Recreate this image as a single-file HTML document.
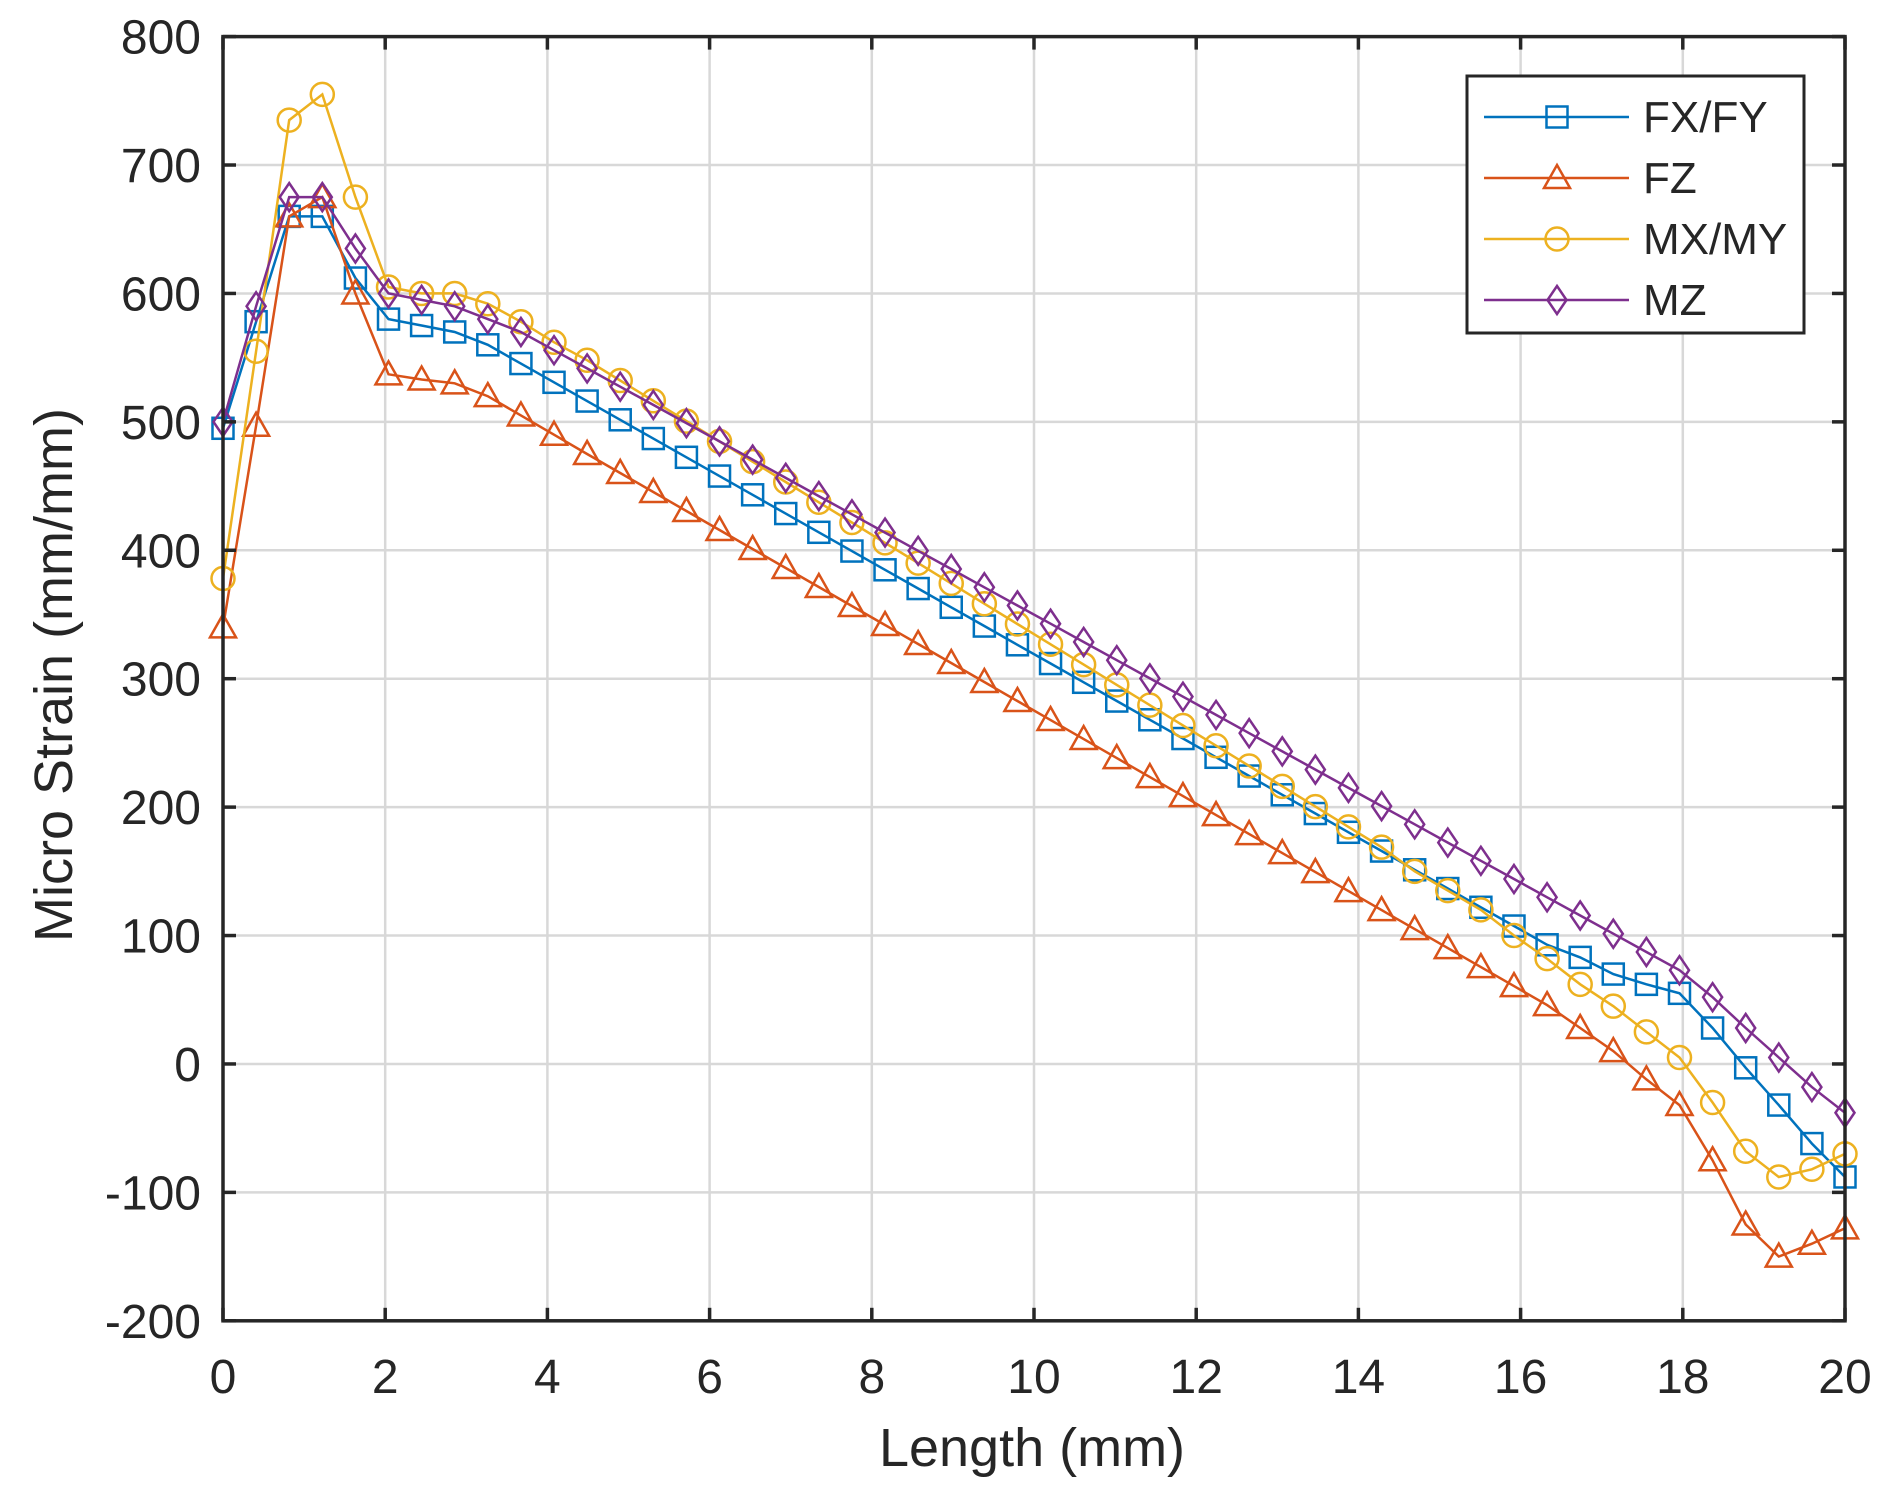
<!DOCTYPE html>
<html><head><meta charset="utf-8"><style>
html,body{margin:0;padding:0;background:#fff;}
svg{display:block;font-family:"Liberation Sans",Arial,sans-serif;}
</style></head><body>
<svg id="s" width="1892" height="1502" viewBox="0 0 1892 1502" xmlns="http://www.w3.org/2000/svg"></svg>
<script>
const S=document.getElementById('s');
const X0=223,X1=1845,Y0=1320.8,Y1=36.6;
const xs=v=>X0+(X1-X0)*v/20, ys=v=>Y0+(Y1-Y0)*(v+200)/1000;
let h='';
for(let i=0;i<=10;i++){const x=xs(i*2);h+=`<line x1="${x}" y1="${Y1}" x2="${x}" y2="${Y0}" stroke="#d8d8d8" stroke-width="2.5"/>`;}
for(let v=-200;v<=800;v+=100){const y=ys(v);h+=`<line x1="${X0}" y1="${y}" x2="${X1}" y2="${y}" stroke="#d8d8d8" stroke-width="2.5"/>`;}
function lin(a,start,end,slope,val){for(let i=start;i<=end;i++)a[i]=val+(i-start)*slope;}
let fx=[495,578,660,660,612,580,575,570];lin(fx,8,40,-14.6,560);fx[41]=83;fx[42]=70;fx[43]=62;fx[44]=55;fx[45]=28;fx[46]=-3;fx[47]=-32;fx[48]=-62;fx[49]=-88;
let fz=[340,497,660,675,600,537,533,530,520,505,490];lin(fz,11,40,-14.8,475);fz[41]=28;fz[42]=10;fz[43]=-12;fz[44]=-32;fz[45]=-75;fz[46]=-125;fz[47]=-150;fz[48]=-140;fz[49]=-128;
let mx=[378,555,735,755,675,605,600,600,592,578,562];lin(mx,11,35,-15.8,548);mx[36]=150;mx[37]=135;mx[38]=120;mx[39]=100;mx[40]=82;mx[41]=62;mx[42]=45;mx[43]=25;mx[44]=5;mx[45]=-30;mx[46]=-68;mx[47]=-88;mx[48]=-82;mx[49]=-70;
let mz=[500,590,675,675,635,600,595,590,580];lin(mz,9,44,-14.2,570);mz[45]=52;mz[46]=28;mz[47]=5;mz[48]=-18;mz[49]=-38;
const C=['#0072BD','#D95319','#EDB120','#7E2F8E'];
function marker(t,x,y,c){const r=10.5;
 if(t==0)return `<rect x="${x-r}" y="${y-r}" width="${2*r}" height="${2*r}" fill="none" stroke="${c}" stroke-width="2.5"/>`;
 if(t==1)return `<polygon points="${x},${y-13} ${x+13},${y+10} ${x-13},${y+10}" fill="none" stroke="${c}" stroke-width="2.5"/>`;
 if(t==2)return `<circle cx="${x}" cy="${y}" r="${r+1}" fill="none" stroke="${c}" stroke-width="2.5"/>`;
 return `<polygon points="${x},${y-14} ${x+9.5},${y} ${x},${y+14} ${x-9.5},${y}" fill="none" stroke="${c}" stroke-width="2.5"/>`;}
[fx,fz,mx,mz].forEach((d,k)=>{let p=d.map((v,i)=>xs(i*20/49).toFixed(1)+','+ys(v).toFixed(1)).join(' ');
 h+=`<polyline points="${p}" fill="none" stroke="${C[k]}" stroke-width="2.5"/>`;
 d.forEach((v,i)=>h+=marker(k,xs(i*20/49),ys(v),C[k]));});
h+=`<rect x="${X0}" y="${Y1}" width="${X1-X0}" height="${Y0-Y1}" fill="none" stroke="#262626" stroke-width="3.5"/>`;
for(let i=0;i<=10;i++){const x=xs(i*2);h+=`<line x1="${x}" y1="${Y0}" x2="${x}" y2="${Y0-13}" stroke="#262626" stroke-width="3.5"/><line x1="${x}" y1="${Y1}" x2="${x}" y2="${Y1+13}" stroke="#262626" stroke-width="3.5"/>`;
 h+=`<text x="${x}" y="1393" font-size="48" fill="#262626" text-anchor="middle">${i*2}</text>`;}
for(let v=-200;v<=800;v+=100){const y=ys(v);h+=`<line x1="${X0}" y1="${y}" x2="${X0+13}" y2="${y}" stroke="#262626" stroke-width="3.5"/><line x1="${X1}" y1="${y}" x2="${X1-13}" y2="${y}" stroke="#262626" stroke-width="3.5"/>`;
 h+=`<text x="201" y="${y+17}" font-size="48" fill="#262626" text-anchor="end">${v}</text>`;}
h+=`<text x="1032" y="1466" font-size="54" fill="#262626" text-anchor="middle">Length (mm)</text>`;
h+=`<text transform="translate(72,675) rotate(-90)" font-size="54" fill="#262626" text-anchor="middle">Micro Strain (mm/mm)</text>`;
h+=`<rect x="1467" y="76" width="337" height="257" fill="#fff" stroke="#262626" stroke-width="3"/>`;
['FX/FY','FZ','MX/MY','MZ'].forEach((n,k)=>{const y=117+k*61;
 h+=`<line x1="1484" y1="${y}" x2="1629" y2="${y}" stroke="${C[k]}" stroke-width="2.5"/>`+marker(k,1557,y,C[k]);
 h+=`<text x="1643" y="${y+15}" font-size="44" fill="#262626">${n}</text>`;});
S.innerHTML=h;
</script>
</body></html>
